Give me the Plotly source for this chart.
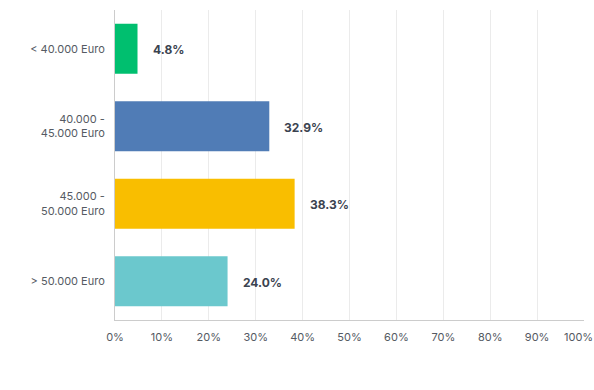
import plotly.graph_objects as go

categories = ["< 40.000 Euro", "40.000 -<br>45.000 Euro", "45.000 -<br>50.000 Euro", "> 50.000 Euro"]
values = [4.8, 32.9, 38.3, 24.0]
labels = ["4.8%", "32.9%", "38.3%", "24.0%"]
colors = ["#00bf6f", "#507cb6", "#f9be00", "#6bc8cd"]
x_ticks = [0, 10, 20, 30, 40, 50, 60, 70, 80, 90, 100]
x_tick_labels = [f"{t}%" for t in x_ticks]

FONT = "Inter, sans-serif"

fig = go.Figure()
fig.add_trace(go.Bar(
    y=categories, x=values, orientation="h",
    marker=dict(color=colors, line=dict(width=0)),
    width=0.645, hoverinfo="skip",
))
for c, v, t in zip(categories, values, labels):
    fig.add_annotation(x=v, y=c, text=f"<b>{t}</b>", showarrow=False,
                       xanchor="left", xshift=13, yshift=-1,
                       font=dict(family=FONT, size=12, color="#3b4350"))

# last tick label pulled inside the page edge
fig.add_annotation(x=x_ticks[-1], y=0, xref="x", yref="paper", text=x_tick_labels[-1],
                   showarrow=False, xanchor="right", yanchor="top", xshift=11, yshift=-8,
                   font=dict(family=FONT, size=11, color="#555a63"))

fig.update_layout(
    width=594, height=390,
    margin=dict(l=115, r=10, t=10, b=70, autoexpand=False),
    paper_bgcolor="white", plot_bgcolor="white",
    showlegend=False,
    font=dict(family=FONT, size=11, color="#555a63"),
    bargap=0.355,
)
fig.update_xaxes(range=[0, 100], tickvals=x_ticks, ticktext=x_tick_labels[:-1] + [""],
                 showgrid=True, gridcolor="#ebebeb", gridwidth=1,
                 showline=True, linecolor="#cccccc", linewidth=1,
                 zeroline=False, ticks="", ticklabelstandoff=7, automargin=False,
                 fixedrange=True)
fig.update_yaxes(categoryorder="array", categoryarray=categories[::-1],
                 showgrid=False, showline=True, linecolor="#cccccc", linewidth=1,
                 ticks="", ticklabelstandoff=7, automargin=False, fixedrange=True)

fig.write_html("out.html", config={"displayModeBar": False},
               post_script="document.body.style.margin='0';document.body.style.overflow='hidden';")
